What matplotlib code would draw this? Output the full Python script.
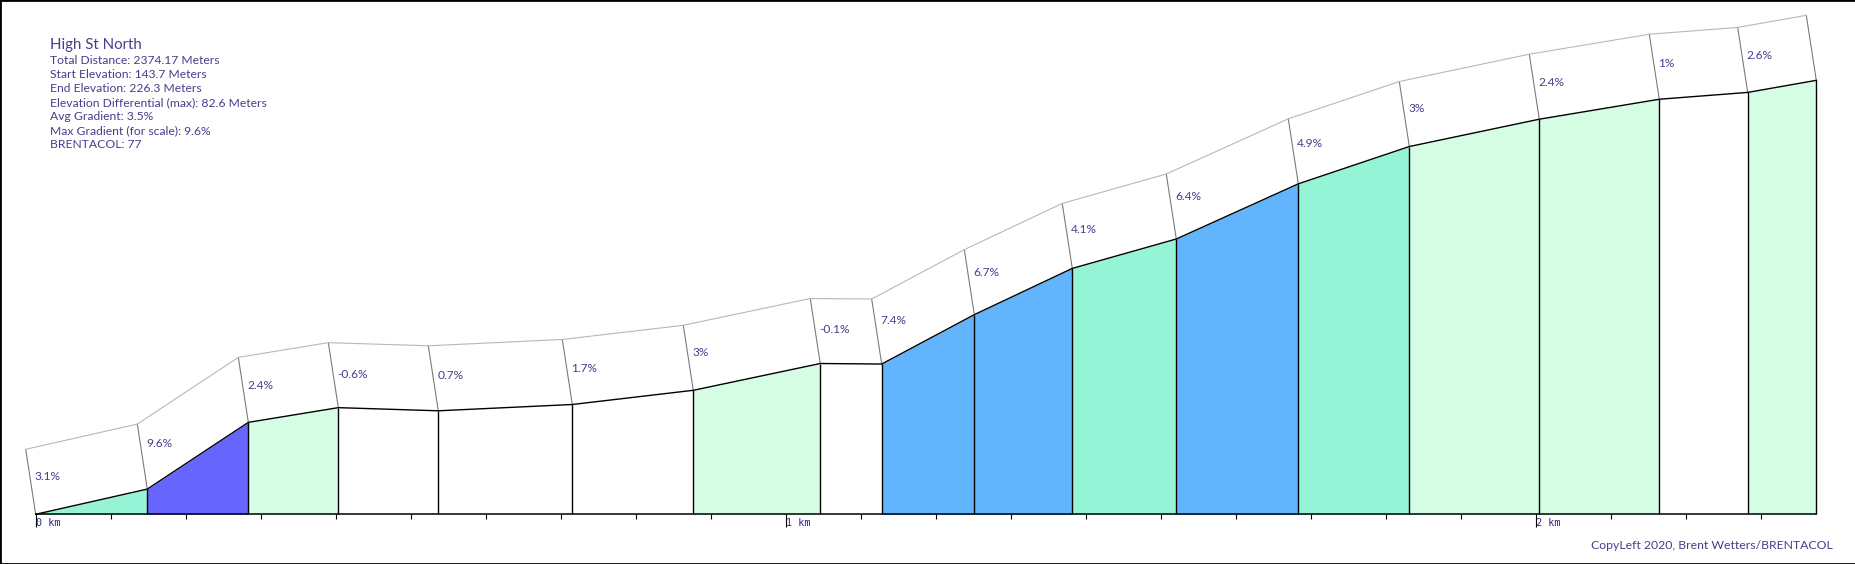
import matplotlib
matplotlib.use("Agg")
import matplotlib.pyplot as plt
from matplotlib.ticker import FixedLocator, FuncFormatter
from matplotlib.patches import Rectangle
from matplotlib.transforms import offset_copy

# route summary
title = "High St North"
info_lines = [
    "Total Distance: 2374.17 Meters",
    "Start Elevation: 143.7 Meters",
    "End Elevation: 226.3 Meters",
    "Elevation Differential (max): 82.6 Meters",
    "Avg Gradient: 3.5%",
    "Max Gradient (for scale): 9.6%",
    "BRENTACOL: 77",
]
copyleft = "CopyLeft 2020, Brent Wetters/BRENTACOL"

# profile vertices (distance along route in m, elevation in m)
dist_m = [0, 148.8, 283.5, 403.5, 536.8, 715.5, 876.8, 1046.1, 1128.0,
          1251.5, 1382.1, 1520.8, 1683.5, 1831.5, 2004.8, 2164.8, 2282.7,
          2374.17]
elev_m = [143.7, 148.5, 161.2, 164.0, 163.4, 164.6, 167.3, 172.4, 172.3,
          181.7, 190.5, 196.1, 206.6, 213.7, 218.9, 222.7, 224.0, 226.3]
# gradient label per segment
grade_pct = [3.1, 9.6, 2.4, -0.6, 0.7, 1.7, 3, -0.1, 7.4, 6.7, 4.1, 6.4,
             4.9, 3, 2.4, 1, 2.6]

major_km = [0, 1000, 2000]
minor_m = [m for m in range(100, 2400, 100) if m % 1000]

TEXT = "#483d8b"
TICK_TEXT = "#2e2784"

plt.rcParams["font.family"] = ["Lato", "DejaVu Sans"]


def grade_color(g):
    if g > 8:
        return "#6666ff"
    if g > 5:
        return "#62b4fd"
    if g > 3:
        return "#96f4d6"
    if g >= 2:
        return "#d4fde4"
    return "white"


def box_side(ax, d, e):
    # tilted side of a label box, from the profile up-left
    ax.annotate("", xy=(d, e), xytext=(-10, 65), textcoords="offset pixels",
                arrowprops=dict(arrowstyle="-", color="#7a7a7a", lw=0.8,
                                shrinkA=0, shrinkB=0), zorder=2)


fig = plt.figure(figsize=(18.56, 5.64), dpi=100)
ax = fig.add_axes([0, 0, 1, 1])
ax.set_xlim(-47.6, 2427.1)
ax.set_ylim(134.24, 241.59)
ax.patch.set_visible(False)

base = elev_m[0]
for i, g in enumerate(grade_pct):
    d0, d1 = dist_m[i], dist_m[i + 1]
    e0, e1 = elev_m[i], elev_m[i + 1]
    ax.fill_between([d0, d1], [e0, e1], base, color=grade_color(g), lw=0, zorder=1)
    box_side(ax, d0, e0)
    t = 24.0
    ax.annotate(f"{g:g}%", xy=(d0 + t, e0 + (e1 - e0) * t / (d1 - d0)),
                xytext=(-19, 34), textcoords="offset pixels",
                ha="left", va="center", fontsize=8.6, color=TEXT, zorder=4)
box_side(ax, dist_m[-1], elev_m[-1])

# top edge of the label boxes: profile shifted up-left
box_off = offset_copy(ax.transData, fig=fig, x=-10, y=65, units="dots")
ax.plot(dist_m, elev_m, color="#b8b8b8", lw=0.8, transform=box_off, zorder=2)

ax.plot(dist_m, elev_m, color="black", lw=1.0, zorder=3)
ax.vlines(dist_m[1:], base, elev_m[1:], color="black", lw=1.0, zorder=3)

# distance axis
for s in ["top", "left", "right"]:
    ax.spines[s].set_visible(False)
ax.spines["bottom"].set_position(("data", base))
ax.spines["bottom"].set_bounds(0, dist_m[-1])
ax.spines["bottom"].set_linewidth(1.1)
ax.spines["bottom"].set_zorder(3)
ax.yaxis.set_visible(False)
ax.xaxis.set_major_locator(FixedLocator(major_km))
ax.xaxis.set_minor_locator(FixedLocator(minor_m))
ax.xaxis.set_major_formatter(FuncFormatter(lambda v, p: f"{v / 1000:g} km"))
ax.tick_params(axis="x", which="major", length=9.4, width=0.8, direction="out",
               pad=-7, labelsize=7.3, labelcolor=TICK_TEXT)
ax.tick_params(axis="x", which="minor", length=3.6, width=0.8, direction="out")
plt.setp(ax.get_xticklabels(), ha="left", family="DejaVu Sans Mono")

# header text
W, H = 1856, 564
fig.text(50 / W, 1 - 49.3 / H, title, fontsize=10.8, color=TEXT, va="baseline")
for i, line in enumerate(info_lines):
    fig.text(50 / W, 1 - (64.3 + 13.95 * i) / H, line, fontsize=8.7,
             color=TEXT, va="baseline")
fig.text(1833 / W, 1 - 549 / H, copyleft, fontsize=8.8, color=TEXT,
         ha="right", va="baseline")

fig.add_artist(Rectangle((0, 0), 1, 1, transform=fig.transFigure, fill=False,
                         edgecolor="black", lw=2))

fig.savefig("out.png", dpi=100)
